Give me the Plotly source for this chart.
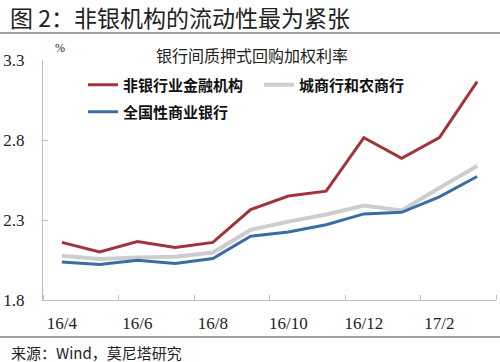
import plotly.graph_objects as go

months = ["16/4", "16/5", "16/6", "16/7", "16/8", "16/9", "16/10", "16/11", "16/12", "17/1", "17/2", "17/3"]
nonbank = [2.16, 2.10, 2.166, 2.128, 2.16, 2.365, 2.45, 2.48, 2.815, 2.685, 2.815, 3.165]
citybank = [2.076, 2.057, 2.066, 2.07, 2.097, 2.238, 2.29, 2.334, 2.39, 2.36, 2.50, 2.637]
national = [2.037, 2.022, 2.049, 2.028, 2.059, 2.198, 2.225, 2.27, 2.338, 2.348, 2.445, 2.572]
series_names = ["非银行业金融机构", "城商行和农商行", "全国性商业银行"]
y_ticks = [1.8, 2.3, 2.8, 3.3]

x = list(range(len(months)))
CJK = "Noto Sans CJK SC"
SERIF = "Liberation Serif"

fig = go.Figure()
fig.add_trace(go.Scatter(x=x, y=nonbank, name=series_names[0], mode="lines",
                         line=dict(color="#A0343B", width=3), legend="legend"))
fig.add_trace(go.Scatter(x=x, y=citybank, name=series_names[1], mode="lines",
                         line=dict(color="#CDCDCD", width=4), legend="legend"))
fig.add_trace(go.Scatter(x=x, y=national, name=series_names[2], mode="lines",
                         line=dict(color="#3C6CA4", width=3), legend="legend2"))

legend_font = dict(family=CJK, size=15, color="#111111", weight="bold")
fig.update_layout(
    width=500, height=362,
    margin=dict(l=43, r=4, t=60, b=62),
    paper_bgcolor="white", plot_bgcolor="white",
    showlegend=True,
    legend=dict(orientation="h", x=(83 - 43) / 453, y=1 - (85 - 60) / 240,
                xanchor="left", yanchor="middle",
                entrywidth=131, entrywidthmode="pixels",
                font=legend_font, bgcolor="rgba(0,0,0,0)", itemwidth=30,
                traceorder="normal"),
    legend2=dict(orientation="h", x=(83 - 43) / 453, y=1 - (112 - 60) / 240,
                 xanchor="left", yanchor="middle",
                 font=legend_font, bgcolor="rgba(0,0,0,0)", itemwidth=30),
    xaxis=dict(range=[-0.5, len(months) - 0.5], showgrid=False, zeroline=False,
               showline=True, linecolor="#BFBFBF", linewidth=1,
               tickmode="array", tickvals=x[::2], ticktext=months[::2],
               ticks="", ticklabelstandoff=8,
               tickfont=dict(family=SERIF, size=17, color="#222222"),
               minor=dict(tickmode="array",
                          tickvals=[i - 0.5 for i in range(0, len(months) + 1, 2)],
                          ticks="inside", ticklen=5, tickcolor="#BFBFBF", showgrid=False)),
    yaxis=dict(range=[y_ticks[0], y_ticks[-1]], showgrid=False, zeroline=False,
               showline=True, linecolor="#BFBFBF", linewidth=1,
               tickmode="array", tickvals=y_ticks, ticktext=[f"{v:.1f}" for v in y_ticks],
               ticks="inside", ticklen=5, tickcolor="#BFBFBF", ticklabelstandoff=14,
               tickfont=dict(family=SERIF, size=17, color="#222222")),
)

# page title, chart title, unit, source
fig.add_annotation(text="图 2：非银机构的流动性最为紧张", xref="paper", yref="paper",
                   x=(8 - 43) / 453, y=1 + (60 - 17) / 240, xanchor="left", yanchor="middle",
                   showarrow=False, font=dict(family=CJK, size=23, color="#222222"))
fig.add_annotation(text="银行间质押式回购加权利率", xref="paper", yref="paper",
                   x=(252 - 43) / 453, y=1 + (60 - 55) / 240, xanchor="center", yanchor="middle",
                   showarrow=False, font=dict(family=CJK, size=16, color="#222222"))
fig.add_annotation(text="%", xref="paper", yref="paper",
                   x=(60 - 43) / 453, y=1 + (60 - 48) / 240, xanchor="center", yanchor="middle",
                   showarrow=False, font=dict(family=SERIF, size=12, color="#222222"))
fig.add_annotation(text="来源：Wind，莫尼塔研究", xref="paper", yref="paper",
                   x=(9 - 43) / 453, y=-(352 - 300) / 240, xanchor="left", yanchor="middle",
                   showarrow=False, font=dict(family=CJK, size=15, color="#222222"))

# horizontal rules
for ypx in (33, 337):
    fig.add_shape(type="line", xref="paper", yref="paper",
                  x0=-43 / 453, x1=1 + 4 / 453,
                  y0=1 - (ypx - 60) / 240, y1=1 - (ypx - 60) / 240,
                  line=dict(color="#808080", width=1.5))

fig.write_html("out.html", config={"displayModeBar": False},
               post_script="document.body.style.margin='0';document.body.style.padding='0';")
